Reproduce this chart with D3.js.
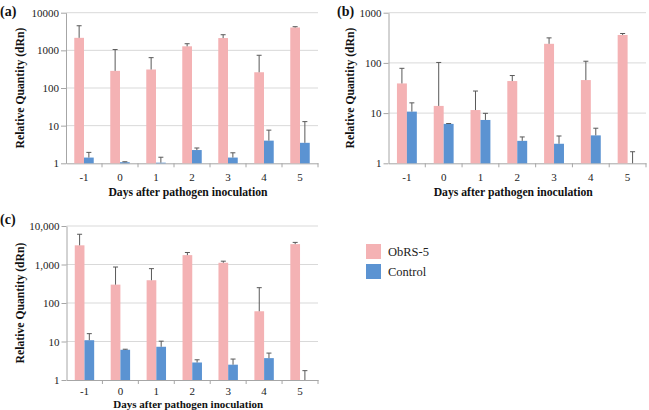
<!DOCTYPE html>
<html>
<head>
<meta charset="utf-8">
<script src="https://cdnjs.cloudflare.com/ajax/libs/d3/7.8.5/d3.min.js"></script>
<style>
  body { margin:0; background:#fff; }
  svg { display:block; font-family:"Liberation Serif","Times New Roman",serif; }
  .grid line { stroke:#d9d9d9; stroke-width:1; }
  .axis path, .axis line { stroke:#a6a6a6; }
  .axis text { font-size:11px; fill:#222; font-family:"Liberation Serif",serif; }
  .title { font-weight:bold; font-size:11.7px; fill:#111; }
</style>
</head>
<body>
<div id="canvas"></div>
<script>
// categories and series
var days = ['-1','0','1','2','3','4','5'];
var seriesNames = ['ObRS-5','Control'];

var obrsA    = [2150, 285, 310, 1280, 2120, 262, 4050];
var obrsAErr = [4500, 1050, 640, 1500, 2600, 740, 4250];
var ctrlA    = [1.42, 1.07, 1.04, 2.25, 1.42, 4.0, 3.5];
var ctrlAErr = [1.95, 1.1, 1.45, 2.55, 1.9, 7.6, 12.8];

var obrsB    = [39, 13.9, 11.5, 43.5, 240, 45.5, 360];
var obrsBErr = [78, 102, 27.5, 56, 315, 108, 385];
var ctrlB    = [10.7, 6.1, 7.3, 2.8, 2.45, 3.6, 1];
var ctrlBErr = [16, 6.2, 9.9, 3.35, 3.5, 5.0, 1.7];

var obrsC    = [3150, 300, 390, 1750, 1110, 61, 3380];
var obrsCErr = [6100, 860, 780, 2050, 1220, 250, 3750];
var ctrlC    = [10.8, 6.1, 7.3, 2.85, 2.5, 3.7, 1];
var ctrlCErr = [16, 6.3, 10.2, 3.35, 3.5, 5.0, 1.75];

var ticks4 = [1, 10, 100, 1000, 10000];
var ticks3 = [1, 10, 100, 1000];
var tickLabelsA = ['1','10','100','1000','10000'];
var tickLabelsB = ['1','10','100','1000'];
var tickLabelsC = ['1','10','100','1,000','10,000'];

var colors = ['#f4b2b4', '#5b93d2'];

var W = 649, H = 410;
var svg = d3.select('#canvas').append('svg')
    .attr('width', W).attr('height', H);

function drawPanel(p){
    var g = svg.append('g');
    var scaleX = d3.scaleBand().domain(days).range([p.l, p.r]);
    var scaleY = d3.scaleLog().domain([1, p.max]).range([p.b, p.t]);
    var inner = d3.scaleBand().domain(seriesNames)
        .range([0, scaleX.bandwidth()]).paddingInner(0).paddingOuter(0.85);

    // gridlines
    g.append('g').attr('class','grid')
        .selectAll('line').data(p.ticks.slice(1)).enter().append('line')
        .attr('x1', p.l).attr('x2', p.r)
        .attr('y1', function(d){return scaleY(d)}).attr('y2', function(d){return scaleY(d)});

    // axes
    var axisY = d3.axisLeft(scaleY).tickValues(p.ticks)
        .tickFormat(function(d,i){return p.labels[i]})
        .tickSize(5).tickPadding(2).tickSizeOuter(0);
    g.append('g').attr('class','axis')
        .attr('transform','translate(' + p.l + ',0)').call(axisY);

    var axisX = d3.axisBottom(scaleX).tickSize(0).tickSizeOuter(0);
    var ax = g.append('g').attr('class','axis')
        .attr('transform','translate(0,' + p.b + ')').call(axisX);
    ax.selectAll('text').attr('dy', p.xdy);
    ax.selectAll('.sep').data(days).enter().append('line')
        .attr('class','sep')
        .attr('x1', function(d){return scaleX(d) + scaleX.bandwidth()})
        .attr('x2', function(d){return scaleX(d) + scaleX.bandwidth()})
        .attr('y1', 0).attr('y2', 4);

    // bars
    var rows = days.map(function(d,i){
        return [
            {day:d, s:seriesNames[0], v:p.obrs[i], e:p.obrsErr[i]},
            {day:d, s:seriesNames[1], v:p.ctrl[i], e:p.ctrlErr[i]}
        ];
    });
    var groups = g.selectAll('.day').data(rows).enter().append('g')
        .attr('class','day')
        .attr('transform', function(d){return 'translate(' + scaleX(d[0].day) + ',0)'});

    groups.selectAll('rect').data(function(d){return d}).enter().append('rect')
        .attr('x', function(d){return inner(d.s)})
        .attr('width', inner.bandwidth())
        .attr('y', function(d){return scaleY(d.v)})
        .attr('height', function(d){return p.b - scaleY(d.v)})
        .attr('fill', function(d,i){return colors[i]});

    // error bars (upper only)
    var err = groups.selectAll('.err').data(function(d){return d}).enter().append('g')
        .attr('class','err')
        .attr('stroke','#595959').attr('stroke-width',1);
    err.append('line')
        .attr('x1', function(d){return inner(d.s) + inner.bandwidth()/2})
        .attr('x2', function(d){return inner(d.s) + inner.bandwidth()/2})
        .attr('y1', function(d){return scaleY(d.v)})
        .attr('y2', function(d){return scaleY(d.e)});
    err.append('line')
        .attr('x1', function(d){return inner(d.s) + inner.bandwidth()/2 - 2.5})
        .attr('x2', function(d){return inner(d.s) + inner.bandwidth()/2 + 2.5})
        .attr('y1', function(d){return scaleY(d.e)})
        .attr('y2', function(d){return scaleY(d.e)});

    // titles
    g.append('text').attr('class','title')
        .attr('transform','translate(' + p.ytx + ',' + (p.t + p.b)/2 + ') rotate(-90)')
        .attr('text-anchor','middle').attr('dy','0.35em')
        .text('Relative  Quantity (dRn)');
    g.append('text').attr('class','title')
        .style('font-size', p.xtSize + 'px')
        .attr('x', (p.l + p.r)/2 - 4).attr('y', p.b + p.xty)
        .attr('text-anchor','middle')
        .text('Days after pathogen inoculation');
    g.append('text').attr('class','title').style('font-size','14px')
        .attr('x', p.lx).attr('y', p.ly)
        .text(p.name);
}

drawPanel({name:'(a)', l:66, r:318, t:12.7, b:163.3, max:10000, ticks:ticks4, labels:tickLabelsA,
    obrs:obrsA, obrsErr:obrsAErr, ctrl:ctrlA, ctrlErr:ctrlAErr,
    ytx:20, xdy:15, xty:33, xtSize:11.7, lx:0, ly:16});
drawPanel({name:'(b)', l:388.5, r:646, t:12.7, b:163.3, max:1000, ticks:ticks3, labels:tickLabelsB,
    obrs:obrsB, obrsErr:obrsBErr, ctrl:ctrlB, ctrlErr:ctrlBErr,
    ytx:350, xdy:15, xty:33, xtSize:11.7, lx:337, ly:16});
drawPanel({name:'(c)', l:66.5, r:318, t:226, b:380, max:10000, ticks:ticks4, labels:tickLabelsC,
    obrs:obrsC, obrsErr:obrsCErr, ctrl:ctrlC, ctrlErr:ctrlCErr,
    ytx:20, xdy:11.5, xty:27.5, xtSize:11, lx:0, ly:224});

// legend
var legend = svg.append('g').attr('transform','translate(366,244)');
var li = legend.selectAll('g').data(seriesNames).enter().append('g')
    .attr('transform', function(d,i){return 'translate(0,' + i*20 + ')'});
li.append('rect').attr('width',15).attr('height',15)
    .attr('fill', function(d,i){return colors[i]});
li.append('text').attr('x',22).attr('y',12)
    .style('font-size','12.5px').attr('fill','#222')
    .text(function(d){return d});
</script>
</body>
</html>
